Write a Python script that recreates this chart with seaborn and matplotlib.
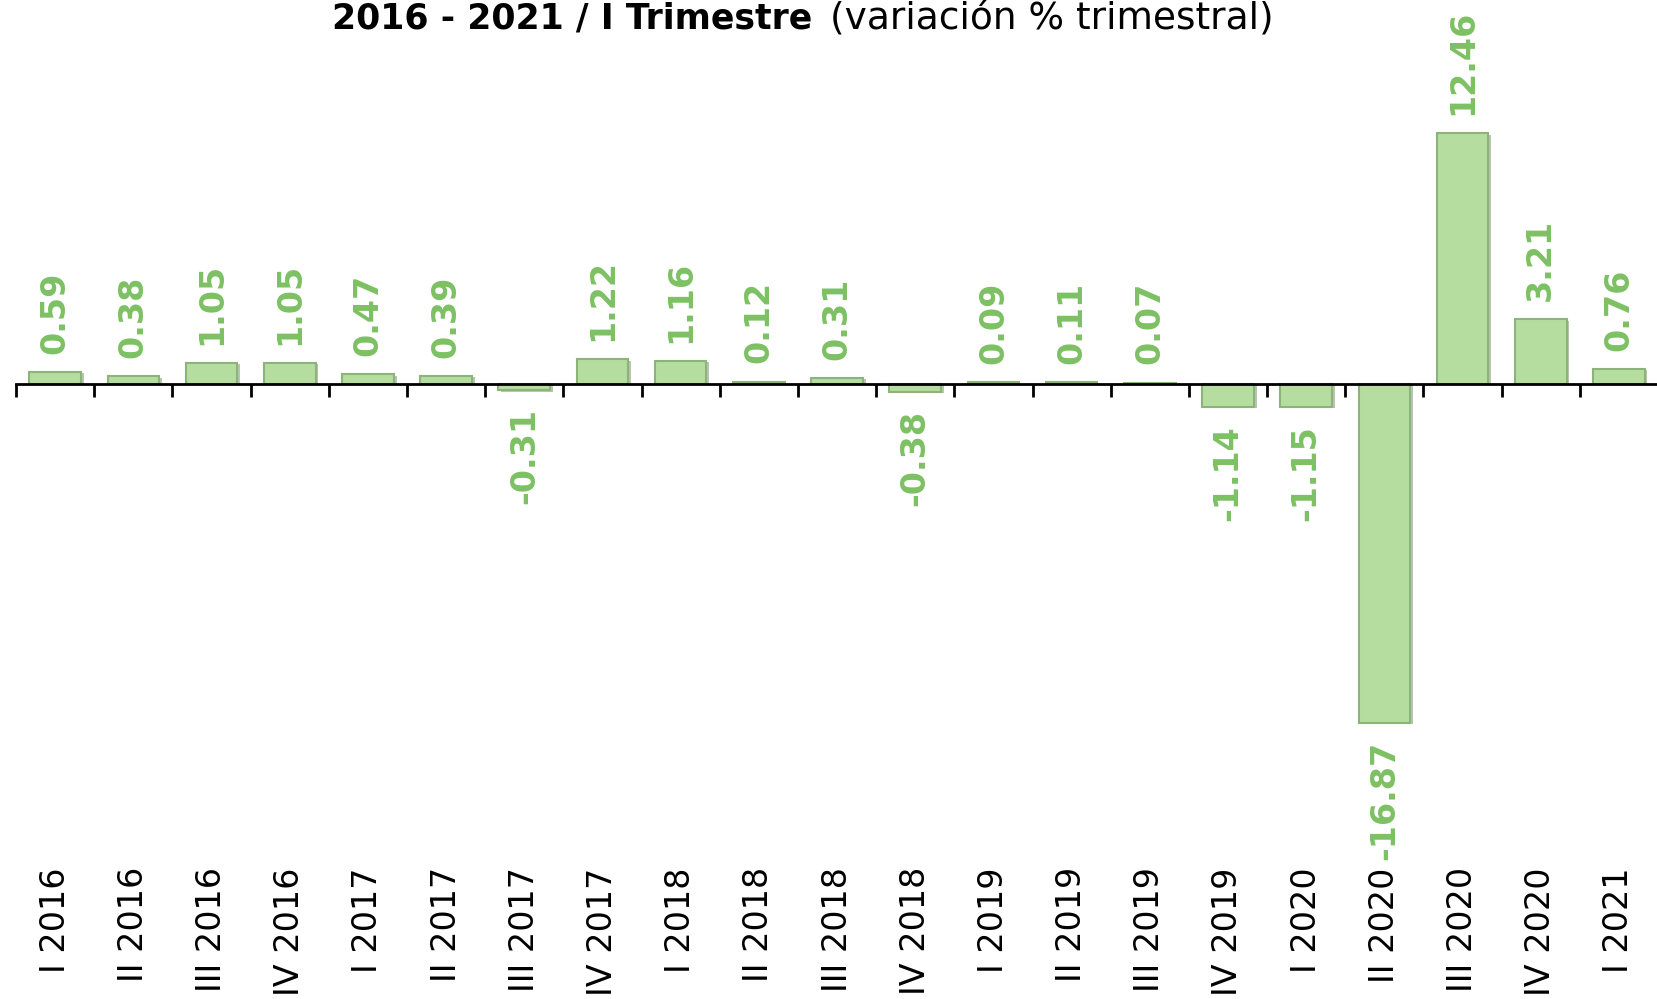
import numpy as np
import matplotlib
matplotlib.use("Agg")
import matplotlib.pyplot as plt
import matplotlib.transforms as mtransforms
import matplotlib.patheffects as pe
import seaborn as sns

quarters = ["I 2016", "II 2016", "III 2016", "IV 2016",
            "I 2017", "II 2017", "III 2017", "IV 2017",
            "I 2018", "II 2018", "III 2018", "IV 2018",
            "I 2019", "II 2019", "III 2019", "IV 2019",
            "I 2020", "II 2020", "III 2020", "IV 2020",
            "I 2021"]
variacion = [0.59, 0.38, 1.05, 1.05,
             0.47, 0.39, -0.31, 1.22,
             1.16, 0.12, 0.31, -0.38,
             0.09, 0.11, 0.07, -1.14,
             -1.15, -16.87, 12.46, 3.21,
             0.76]

title_bold = "2016 - 2021 / I Trimestre"
title_rest = "(variación % trimestral)"

bar_color = "#b5dd9f"
edge_color = "#8cb47a"
label_color = "#7cc163"

sns.set_theme(style="white")
plt.rcParams["font.family"] = ["DejaVu Sans"]

fig = plt.figure(figsize=(16.58, 9.99), dpi=100)
ax = fig.add_axes([0.0097, 0.0, 0.9903, 1.0])

sns.barplot(x=quarters, y=variacion, color=bar_color, saturation=1,
            width=0.66, edgecolor=edge_color, linewidth=1.5, ax=ax)

# soft shadow on the bars, like the original 3D-ish look
for p in ax.patches:
    p.set_path_effects([pe.SimplePatchShadow(offset=(2, -1), shadow_rgbFace="#6f8f60", alpha=0.5),
                        pe.Normal()])

# scale: zero line ~384 px from top, ~20.1 px per unit
ax.set_ylim(-30.6, 19.1)
ax.set_xlim(-0.5, 20.5)

# value labels
for i, v in enumerate(variacion):
    off = 13 if v >= 0 else -13
    ax.annotate(f"{v:.2f}", (i, v), xytext=(0, off), textcoords="offset points",
                rotation=90, ha="center", va="bottom" if v >= 0 else "top",
                fontsize=24, fontweight="bold", color=label_color,
                annotation_clip=False)

# category axis at zero, ticks between categories
for s in ["left", "right", "top"]:
    ax.spines[s].set_visible(False)
ax.spines["bottom"].set_position(("data", 0))
ax.spines["bottom"].set_color("black")
ax.spines["bottom"].set_linewidth(2)
ax.set_yticks([])
ax.set_xticks(np.arange(-0.5, 20, 1))
ax.set_xticklabels([])
ax.tick_params(axis="x", direction="out", length=9, width=2, color="black", bottom=True)
ax.set_xlabel("")

# category labels at the bottom
trans = mtransforms.blended_transform_factory(ax.transData, ax.transAxes)
for i, q in enumerate(quarters):
    ax.text(i, 0.132, q, transform=trans, rotation=90, ha="center", va="top",
            fontsize=24, color="black")

# title (cut at top like the original)
ty = 1 - 28 / 999
fig.text(812 / 1658, ty, title_bold, ha="right", va="baseline",
         fontsize=25, fontweight="bold", color="black")
fig.text(830 / 1658, ty, title_rest, ha="left", va="baseline",
         fontsize=27, color="black")

fig.savefig("out.png", dpi=100)
